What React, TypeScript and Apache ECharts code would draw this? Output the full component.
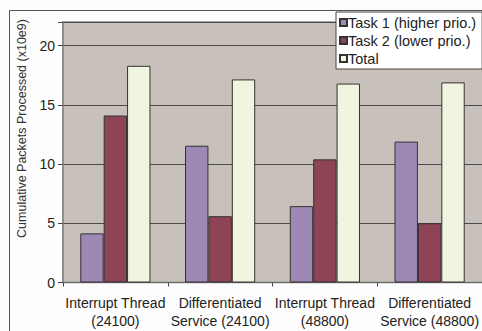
import React, { useEffect, useRef } from "react";
import * as echarts from "echarts";

const categories = [
  "Interrupt Thread\n(24100)",
  "Differentiated\nService (24100)",
  "Interrupt Thread\n(48800)",
  "Differentiated\nService (48800)",
];
const task1 = [4.15, 11.55, 6.45, 11.9];
const task2 = [14.1, 5.6, 10.4, 5.0];
const total = [18.3, 17.15, 16.8, 16.9];
const seriesNames = ["Task 1 (higher prio.)", "Task 2 (lower prio.)", "Total"];
const seriesColors = ["#9D88B6", "#8F4456", "#F1F5E0"];

const FONT = "Liberation Sans, Arial, sans-serif";

export default function App() {
  const ref = useRef<HTMLDivElement>(null);

  useEffect(() => {
    if (!ref.current) return;
    const chart = echarts.init(ref.current, null, { renderer: "svg" });
    const values = [task1, task2, total];
    chart.setOption({
      animation: false,
      backgroundColor: "#FDFDFD",
      textStyle: { fontFamily: FONT },
      grid: { left: 63, top: 22, width: 422, height: 260.5, containLabel: false },
      legend: {
        orient: "vertical",
        left: 336,
        top: 12,
        width: 141,
        padding: [3, 6, 3, 3],
        itemGap: 3,
        itemWidth: 7,
        itemHeight: 7,
        icon: "rect",
        backgroundColor: "#FFFFFF",
        borderColor: "#444444",
        borderWidth: 1,
        borderRadius: 0,
        textStyle: { fontFamily: FONT, fontSize: 14.5, color: "#222", lineHeight: 14, padding: [0, 0, 0, -4] },
        data: seriesNames,
      },
      xAxis: {
        type: "category",
        data: categories,
        axisLine: { show: true, lineStyle: { color: "#666", width: 1 } },
        axisTick: { show: true, length: 4, alignWithLabel: false, lineStyle: { color: "#444" } },
        axisLabel: { fontFamily: FONT, fontSize: 14, color: "#222", lineHeight: 17.5, margin: 12, interval: 0 },
        splitLine: { show: false },
      },
      yAxis: {
        type: "value",
        min: 0,
        max: 22,
        interval: 5,
        axisLine: { show: true, lineStyle: { color: "#888", width: 1.5 } },
        axisTick: { show: true, length: 5, lineStyle: { color: "#444" } },
        axisLabel: {
          fontFamily: FONT,
          fontSize: 14,
          color: "#222",
          margin: 8,
          formatter: (v: number) => (v % 5 === 0 ? String(v) : ""),
        },
        splitLine: { show: true, lineStyle: { color: "#4a4a4a", width: 1 } },
        splitArea: { show: false },
      },
      series: values.map((d, i) => ({
        name: seriesNames[i],
        type: "bar",
        data: d,
        barGap: "0%",
        barCategoryGap: "33%",
        itemStyle: { color: seriesColors[i], borderColor: "#333", borderWidth: 1 },
      })),
      graphic: [
        {
          type: "rect",
          silent: true,
          z: -10,
          shape: { x: 63, y: 22, width: 430, height: 260.5 },
          style: { fill: "#C8C0BA", stroke: "#888", lineWidth: 1.5 },
        },
        {
          type: "rect",
          silent: true,
          z: -20,
          shape: { x: 9.5, y: 10.5, width: 520, height: 400 },
          style: { fill: "none", stroke: "#555", lineWidth: 1 },
        },
        {
          type: "text",
          silent: true,
          x: 22,
          y: 128.5,
          rotation: Math.PI / 2,
          style: {
            text: "Cumulative Packets Processed (x10e9)",
            fontFamily: FONT,
            fontSize: 12.5,
            fill: "#333",
            align: "center",
            verticalAlign: "middle",
          },
        },
      ],
    });
    return () => chart.dispose();
  }, []);

  return (
    <div
      ref={ref}
      style={{ position: "fixed", left: 0, top: 0, width: 482, height: 331 }}
    />
  );
}
